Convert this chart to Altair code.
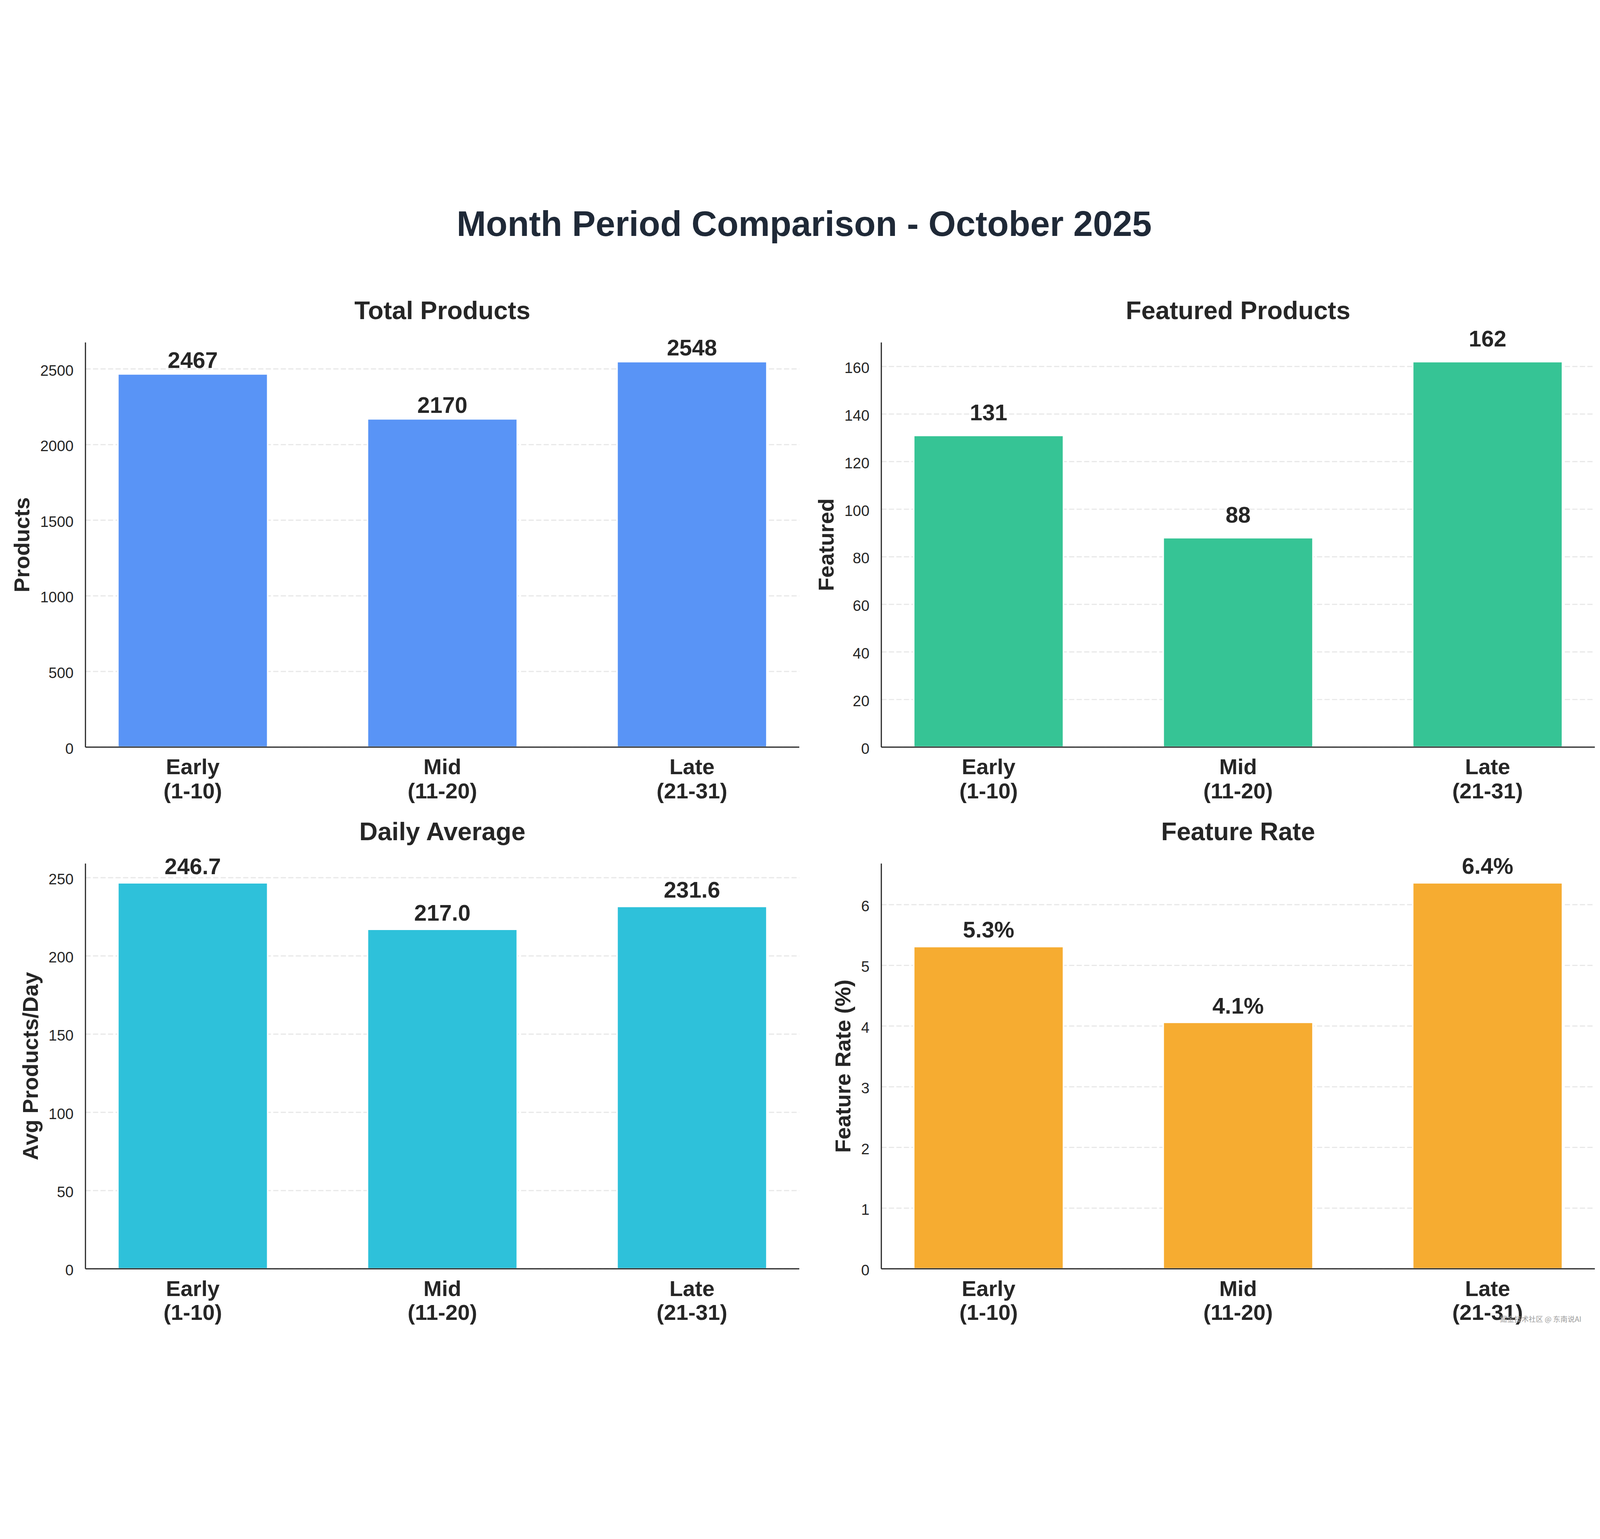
import altair as alt
import pandas as pd

# ---- data ----
periods = ["Early\n(1-10)", "Mid\n(11-20)", "Late\n(21-31)"]
total_products = [2467, 2170, 2548]
featured_products = [131, 88, 162]
daily_average = [246.7, 217.0, 231.6]
feature_rate = [5.31, 4.06, 6.36]

total_ticks = [0, 500, 1000, 1500, 2000, 2500]
featured_ticks = [0, 20, 40, 60, 80, 100, 120, 140, 160]
daily_ticks = [0, 50, 100, 150, 200, 250]
rate_ticks = [0, 1, 2, 3, 4, 5, 6]

main_title = "Month Period Comparison - October 2025"
panel_titles = ["Total Products", "Featured Products", "Daily Average", "Feature Rate"]
y_titles = ["Products", "Featured", "Avg Products/Day", "Feature Rate (%)"]
watermark = "掘金技术社区 @ 东南说AI"

# ---- layout (pixels inside one shared view) ----
FONT = "Liberation Sans"
TXT = "#262626"
VIEW_W, VIEW_H = 5225, 3207
BOXES = [(0, 2471, 0, 1401), (2755, 5225, 0, 1401),
         (0, 2471, 1804, 3207), (2755, 5225, 1804, 3207)]
YTITLE_X = [-194, 2590, -165, 2648]


def panel(values, ticks, color, title, ytitle, fmt, suffix, label_dy, box, ytx, extras=()):
    x0, x1, y0, y1 = box
    df = pd.DataFrame({"period": periods, "value": values})
    tick_df = pd.DataFrame({"value": ticks})
    ymax = max(values) * 1.05
    xs = alt.Scale(domain=periods, range=[x0, x1], paddingInner=0.4, paddingOuter=0.13)
    ys = alt.Scale(domain=[0, ymax], range=[y1, y0], nice=False, zero=True)
    X = alt.X("period:N", scale=xs, axis=None, sort=periods)
    Y = alt.Y("value:Q", scale=ys, axis=None)

    grid = alt.Chart(tick_df).mark_rule(
        color="#E8E8E8", strokeWidth=4, strokeDash=[18, 8]
    ).encode(y=Y, x=alt.value(x0), x2=alt.value(x1))
    ytick_labels = alt.Chart(tick_df).mark_text(
        font=FONT, fontSize=52, color=TXT, align="right", baseline="middle", dy=7
    ).encode(y=Y, x=alt.value(x0 - 41), text=alt.Text("value:Q", format="d"))
    bars = alt.Chart(df).mark_bar(color=color, stroke="white", strokeWidth=5).encode(x=X, y=Y)
    value_labels = alt.Chart(df).transform_calculate(
        label=f"format(datum.value, '{fmt}') + '{suffix}'"
    ).mark_text(
        font=FONT, fontSize=78, fontWeight="bold", color=TXT,
        baseline="alphabetic", align="center", dy=-label_dy,
    ).encode(x=X, y=Y, text="label:N")
    xtick_labels = alt.Chart(df).mark_text(
        font=FONT, fontSize=76, fontWeight="bold", color=TXT, align="center",
        baseline="top", lineBreak="\n", lineHeight=83,
    ).encode(x=X, y=alt.value(y1 + 34), text="period:N")
    one = pd.DataFrame({"t": [title], "yt": [ytitle]})
    y_spine = alt.Chart(one).mark_rule(color=TXT, strokeWidth=4).encode(
        x=alt.value(x0), y=alt.value(y0), y2=alt.value(y1))
    x_spine = alt.Chart(one).mark_rule(color=TXT, strokeWidth=4).encode(
        x=alt.value(x0), x2=alt.value(x1), y=alt.value(y1))
    ttl = alt.Chart(one).mark_text(
        font=FONT, fontSize=88, fontWeight="bold", color=TXT,
        baseline="alphabetic", align="center",
    ).encode(text="t:N", x=alt.value((x0 + x1) / 2), y=alt.value(y0 - 81))
    yttl = alt.Chart(one).mark_text(
        font=FONT, fontSize=76, fontWeight="bold", color=TXT,
        baseline="alphabetic", align="center", angle=270,
    ).encode(text="yt:N", x=alt.value(ytx), y=alt.value((y0 + y1) / 2))
    return alt.layer(grid, ytick_labels, bars, value_labels, xtick_labels,
                     y_spine, x_spine, ttl, yttl, *extras)


main = alt.Chart(pd.DataFrame({"t": [main_title]})).mark_text(
    font=FONT, fontSize=122, fontWeight="bold", color="#1F2937",
    baseline="alphabetic", align="center",
).encode(text="t:N", x=alt.value(2488), y=alt.value(-368))

wm = alt.Chart(pd.DataFrame({"t": [watermark]})).mark_text(
    font="Noto Sans CJK SC", fontSize=25, color="#9A9A9A",
    baseline="middle", align="center",
).encode(text="t:N", x=alt.value(5037), y=alt.value(3383))

p1 = panel(total_products, total_ticks, "#5994F6", panel_titles[0], y_titles[0],
           "d", "", 21, BOXES[0], YTITLE_X[0], (main,))
p2 = panel(featured_products, featured_ticks, "#36C495", panel_titles[1], y_titles[1],
           "d", "", 53, BOXES[1], YTITLE_X[1])
p3 = panel(daily_average, daily_ticks, "#2EC1DA", panel_titles[2], y_titles[2],
           ".1f", "", 30, BOXES[2], YTITLE_X[2])
p4 = panel(feature_rate, rate_ticks, "#F6AC31", panel_titles[3], y_titles[3],
           ".1f", "%", 31, BOXES[3], YTITLE_X[3], (wm,))

chart = alt.layer(p1, p2, p3, p4).resolve_scale(
    x="independent", y="independent"
).properties(
    width=VIEW_W,
    height=VIEW_H,
    padding={"left": 30, "top": 23, "right": 5, "bottom": 5},
    background="white",
).configure_view(stroke=None)

chart.save("out.html", embed_options={"renderer": "svg", "actions": False})
